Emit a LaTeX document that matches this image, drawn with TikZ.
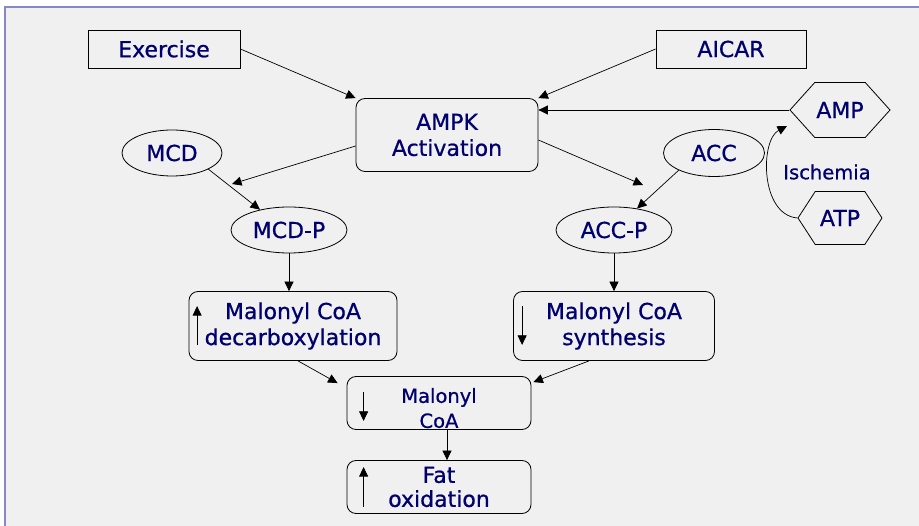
\documentclass[tikz,border=0pt]{standalone}
\usepackage{fontspec}
\setmainfont{DejaVu Sans}
\newfontfamily\labelfont{DejaVu Sans}[FakeBold=0.8]
\usepackage{tikz}
\usetikzlibrary{arrows.meta,shapes.geometric,shapes.symbols}

\definecolor{navytext}{RGB}{0,0,110}
\definecolor{panel}{RGB}{240,240,240}
\definecolor{frameline}{RGB}{136,136,200}

\begin{document}
\begin{tikzpicture}[x=1pt,y=-1pt]
  \tikzset{lbl/.style = {text=navytext,font=\labelfont\fontsize{22}{26}\selectfont,align=center,inner sep=0pt}}
  \tikzset{sqbox/.style = {lbl,draw,line width=0.8pt,minimum width=152pt,minimum height=38pt}}
  \tikzset{rbox/.style = {lbl,draw,line width=0.8pt,rounded corners=9pt}}
  \tikzset{oval/.style = {lbl,draw,ellipse,line width=0.8pt}}
  \tikzset{hexa/.style = {lbl,draw,signal,signal to=west and east,line width=0.8pt}}
  \tikzset{edge/.style = {-{Triangle[length=9.5pt,width=9pt]},line width=0.7pt}}
  \useasboundingbox (0,0) rectangle (919,526);
  \fill[panel] (5,7) rectangle (919,526);
  \draw[frameline,line width=2pt] (5,526) -- (5,7) -- (919,7);

	\node[sqbox] (ex) at (164,49) {Exercise};
	\node[sqbox,minimum width=150pt] (aicar) at (731,49) {AICAR};
	\node[rbox,minimum width=182pt,minimum height=73pt] (ampk) at (447,135) {AMPK\\Activation};
	\node[hexa,minimum width=100pt,minimum height=55pt,signal pointer angle=96] (amp) at (840,110) {AMP};
	\node[hexa,minimum width=84pt,minimum height=53pt,signal pointer angle=114] (atp) at (840,218) {ATP};
	\node[lbl,font=\labelfont\fontsize{19.5}{23}\selectfont] (isch) at (827,172) {Ischemia};
	\node[oval,minimum width=100pt,minimum height=46pt] (mcd) at (172,153) {MCD};
	\node[oval,minimum width=116pt,minimum height=46pt] (mcdp) at (289,230) {MCD-P};
	\node[oval,minimum width=101pt,minimum height=47pt] (acc) at (714,153) {ACC};
	\node[oval,minimum width=116pt,minimum height=46pt] (accp) at (614,230) {ACC-P};
	\node[rbox,minimum width=208pt,minimum height=69pt] (dec) at (293,326) {Malonyl CoA\\decarboxylation};
	\node[rbox,minimum width=201pt,minimum height=69pt] (syn) at (614,326) {Malonyl CoA\\synthesis};
	\node[rbox,minimum width=184pt,minimum height=53pt,font=\labelfont\fontsize{19.5}{25}\selectfont] (mal) at (439,403) {\rule{0pt}{25pt}Malonyl\\CoA};
	\node[rbox,minimum width=184pt,minimum height=53pt,font=\labelfont\fontsize{22}{24}\selectfont] (fat) at (439,487) {Fat\\oxidation};
	\coordinate (mcdhit) at (232,184);
	\coordinate (acchit) at (643,185);
	\coordinate (ampin) at (787,126);

    % into AMPK
    \draw[edge] (ex.east) -- (ampk.north west);
    \draw[edge] (aicar.west) -- (ampk.north east);
    \draw[edge] (amp.west) -- (amp.west -| ampk.east);
    \draw[edge] (atp.west) .. controls (760,215) and (760,140) .. (ampin);
    % phosphorylation
    \draw[edge] ([yshift=-11pt]ampk.west) -- (mcdhit);
    \draw[edge] ([yshift=-5pt]ampk.east) -- (acchit);
    \draw[edge] (mcd.-24) -- (mcdp.145);
    \draw[edge] (acc.206) -- (accp.43);
    \draw[edge] (mcdp.south) -- (mcdp.south |- dec.north);
    \draw[edge] (accp.south) -- (accp.south |- syn.north);
    % malonyl CoA
    \draw[edge] ([xshift=5pt]dec.south) -- ([xshift=-9pt,yshift=-7pt]mal.north west);
    \draw[edge] ([xshift=-25pt]syn.south) -- ([xshift=2pt,yshift=-6pt]mal.north east);
    \draw[edge] ([xshift=8pt]mal.south) -- ([xshift=8pt]fat.north);
    % up / down marks
    \draw[edge] ([xshift=8.5pt,yshift=16pt]dec.south west) -- ([xshift=8.5pt,yshift=-15pt]dec.north west);
    \draw[edge] ([xshift=9pt,yshift=-15pt]syn.north west) -- ([xshift=9pt,yshift=16pt]syn.south west);
    \draw[edge] ([xshift=17pt,yshift=-16pt]mal.north west) -- ([xshift=17pt,yshift=9pt]mal.south west);
    \draw[edge] ([xshift=17pt,yshift=7pt]fat.south west) -- ([xshift=17pt,yshift=-7pt]fat.north west);
\end{tikzpicture}
\end{document}
